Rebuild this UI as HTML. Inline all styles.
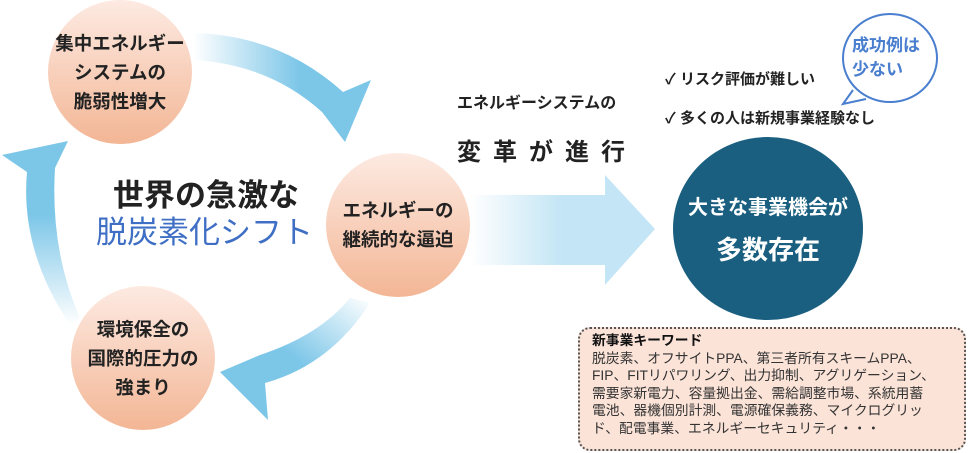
<!DOCTYPE html>
<html><head><meta charset="utf-8"><style>
body{margin:0;width:968px;height:453px;background:#fff;overflow:hidden;position:relative;font-family:"Liberation Sans","Noto Sans CJK JP",sans-serif;}
.t{position:absolute;white-space:nowrap;font-weight:bold;color:#222;}
.c{position:absolute;border-radius:50%;background:linear-gradient(#fdeae2,#f3b695);display:flex;align-items:center;justify-content:center;text-align:center;font-weight:bold;color:#222;font-size:18.5px;line-height:29px;white-space:nowrap;}
</style></head><body>
<svg width="968" height="453" style="position:absolute;left:0;top:0">
<defs>
<linearGradient id="g1" x1="0" y1="0" x2="1" y2="0"><stop offset="0" stop-color="#fff"/><stop offset=".6" stop-color="#7cc6e8"/></linearGradient>
<linearGradient id="g2" x1="0" y1="1" x2="0" y2="0"><stop offset="0" stop-color="#fff"/><stop offset=".6" stop-color="#7cc6e8"/></linearGradient>
<linearGradient id="g3" x1="1" y1="0" x2="0" y2="1"><stop offset="0" stop-color="#fff"/><stop offset=".5" stop-color="#7cc6e8"/></linearGradient>
<linearGradient id="g4" x1="0" y1="0" x2="1" y2="0"><stop offset="0" stop-color="#fff"/><stop offset=".5" stop-color="#c3e5f5"/></linearGradient>
</defs>
<path d="M193,33 Q280,35 343,92 L371,80 L345,142 L322,112 Q270,65 195,60 Z" fill="url(#g1)"/>
<path d="M70,325 Q20,250 27,172 L2,155 L68,141 L55,168 Q50,250 80,318 Z" fill="url(#g2)"/>
<path d="M370,303 Q330,365 265,383 L268,420 L220,372 L260,355 Q320,335 350,298 Z" fill="url(#g3)"/>
<path d="M470,195 L605,195 L605,175 L655,229 L605,285 L605,265 L470,265 Z" fill="url(#g4)"/>
<ellipse cx="890" cy="58" rx="47" ry="44" fill="#fff" stroke="#4a7fcf" stroke-width="2"/>
<path d="M851,92 L843,104 L868,101" fill="#fff" stroke="none"/>
<path d="M853,90 L843,104 L866,99" fill="none" stroke="#4a7fcf" stroke-width="2"/>
</svg>
<div class="c" style="left:48px;top:0;width:144px;height:144px">集中エネルギー<br>システムの<br>脆弱性増大</div>
<div class="c" style="left:326px;top:153px;width:144px;height:144px">エネルギーの<br>継続的な逼迫</div>
<div class="c" style="left:71px;top:286px;width:144px;height:144px">環境保全の<br>国際的圧力の<br>強まり</div>
<div class="t" style="left:113px;top:170px;font-size:31px">世界の急激な</div>
<div class="t" style="left:96px;top:207px;font-size:31px;color:#3f6fc5;font-weight:normal">脱炭素化シフト</div>
<div class="t" style="left:457px;top:89px;font-size:16px">エネルギーシステムの</div>
<div class="t" style="left:457px;top:132px;font-size:24px;letter-spacing:12px">変革が進行</div>
<div class="t" style="left:665px;top:68px;font-size:15px">✓ リスク評価が難しい</div>
<div class="t" style="left:665px;top:107px;font-size:15px">✓ 多くの人は新規事業経験なし</div>
<div class="t" style="left:852px;top:34px;font-size:17px;color:#4a7fcf;line-height:24px;text-align:left">成功例は<br>少ない</div>
<div class="c" style="left:673px;top:137px;width:190px;height:183px;background:#1a5f80;color:#fff;flex-direction:column;line-height:42px"><span style="font-size:20px">大きな事業機会が</span><span style="font-size:26px">多数存在</span></div>
<div style="position:absolute;left:578px;top:327px;width:388px;height:124px;border:2px dotted #555;border-radius:12px;background:#fbe3d8;padding:3px 0 0 12px;box-sizing:border-box;font-size:13.8px;line-height:17.5px;color:#333;white-space:nowrap">
<b style="color:#111">新事業キーワード</b><br>脱炭素、オフサイトPPA、第三者所有スキームPPA、<br>FIP、FITリパワリング、出力抑制、アグリゲーション、<br>需要家新電力、容量拠出金、需給調整市場、系統用蓄<br>電池、器機個別計測、電源確保義務、マイクログリッ<br>ド、配電事業、エネルギーセキュリティ・・・</div>
</body></html>
